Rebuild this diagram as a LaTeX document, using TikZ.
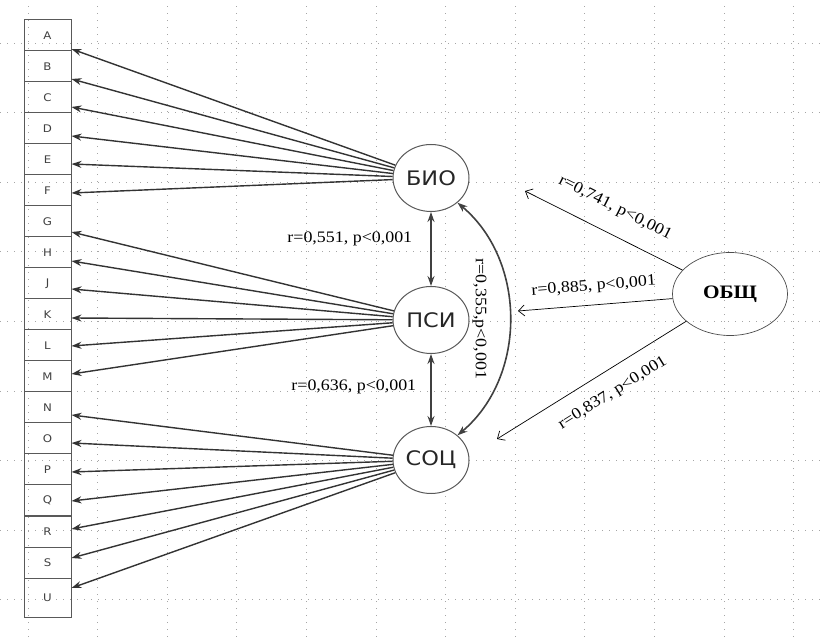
\documentclass[tikz,border=0pt]{standalone}
\usepackage{fontspec}
\setmainfont{Liberation Serif}[FakeStretch=1.12]
\setsansfont{DejaVu Sans}[FakeStretch=1.12]
\usetikzlibrary{arrows.meta, positioning, shapes.geometric}

\begin{document}
\begin{tikzpicture}[x=1pt, y=1pt]
	\tikzset{grid/.style={draw=black!35, line width=0.9pt, dash pattern=on 1pt off 6pt},
		item/.style={rectangle, draw=black!65, line width=1pt, inner sep=0, minimum width=47pt, minimum height=31pt, text=black!75, font=\sffamily\fontsize{10.5}{12}\selectfont},
		factor/.style={ellipse, draw=black!65, line width=1pt, fill=white, inner sep=0, minimum width=76pt, minimum height=67pt, text=black!85, font=\sffamily\fontsize{20}{24}\selectfont},
		load/.style={draw=black!80, line width=1.4pt, -{Stealth[length=10pt, width=7pt]}},
		corr/.style={draw=black!75, line width=1.6pt, {Stealth[length=10pt, width=7pt]}-{Stealth[length=10pt, width=7pt]}},
		gen/.style={draw=black, line width=0.7pt, -{Straight Barb[length=6pt, width=11pt]}},
		lbl/.style={inner sep=0, font=\fontsize{16}{18}\selectfont} }

	\useasboundingbox (0,0) rectangle (821,637);
	\foreach \k in {0,...,11} \draw[grid] (28+69.6*\k,0) -- (28+69.6*\k,637);
	\foreach \k in {0,...,8} \draw[grid] (0,594-69.6*\k) -- (821,594-69.6*\k);

	% indicators
	\foreach \n [count=\i from 0] in {A,B,C,D,E,F,G,H,J,K,L,M,N,O,P,Q,R,S}
		\node[item] (\n) at (47.5,601.5-31*\i) {\n};
	\node[item, minimum height=39pt] (U) at (47.5,39.5) {U};

	% factors
	\node[factor] (BIO) at (431,459) {БИО};
	\node[factor] (PSI) at (431,317) {ПСИ};
	\node[factor] (SOC) at (431,177) {СОЦ};
	\node[ellipse, draw=black!70, line width=0.7pt, inner sep=0, minimum width=115pt, minimum height=83pt, font=\bfseries\fontsize{19}{22}\selectfont] (OBS) at (730,343) {ОБЩ};

	\foreach \n/\s in {A/-13.5, B/-12.5, C/-9.5, D/-7.5, E/-4.5, F/-2.5}
		\draw[load] (BIO) -- ([yshift=\s pt]\n.east);
	\foreach \n/\s in {G/-10.5, H/-8.5, J/-5.5, K/-3.5, L/-0.5, M/2.5}
		\draw[load] (PSI) -- ([yshift=\s pt]\n.east);
	\foreach \n/\s in {N/-7.5, O/-4.5, P/-2.5, Q/-0.5, R/2.5, S/4.5, U/9.5}
		\draw[load] (SOC) -- ([yshift=\s pt]\n.east);

	\draw[corr] (BIO) -- node[lbl, pos=0.37, left=18pt] {r=0,551, p<0,001} (PSI);
	\draw[corr] (PSI) -- node[lbl, pos=0.45, left=14pt] {r=0,636, p<0,001} (SOC);
	\draw[corr] (BIO.-43) to[bend left=50] node[lbl, xshift=-30pt, rotate=-90] {r=0,355,p<0,001} (SOC.43);

	% general factor
	\coordinate (t1) at (525,446);
	\coordinate (t2) at (518,326);
	\coordinate (t3) at (497,198);
	\draw[gen] (OBS) -- node[lbl, sloped, above=18pt] {r=0,741, p<0,001} (t1);
	\draw[gen] (OBS) -- node[lbl, sloped, above=11pt] {r=0,885, p<0,001} (t2);
	\draw[gen] (OBS) -- node[lbl, sloped, pos=0.45, below=15pt] {r=0,837, p<0,001} (t3);
\end{tikzpicture}
\end{document}
